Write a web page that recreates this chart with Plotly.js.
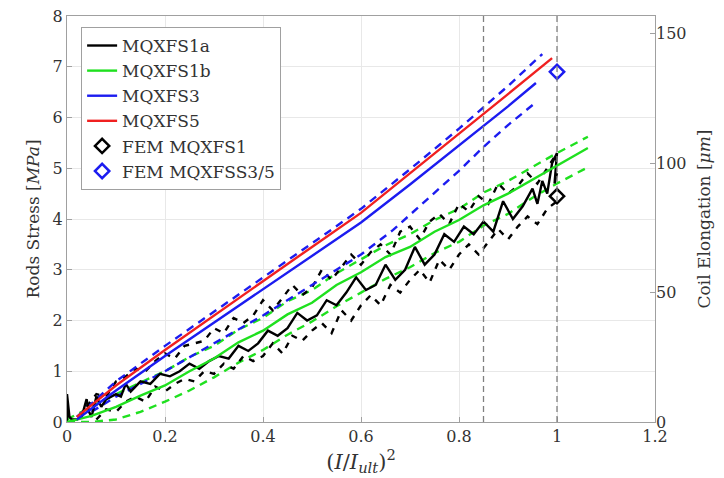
<!DOCTYPE html>
<html><head><meta charset="utf-8">
<script src="https://cdn.plot.ly/plotly-3.0.1.min.js"></script>
<style>html,body{margin:0;padding:0;background:#fff}</style>
</head><body><div id="chart" style="width:724px;height:478px"></div>
<script>
// ---------- data (x = (I/Iult)^2, y = Rods stress MPa) ----------
const s1aX = [0,0,0.005,0.01,0.02,0.03,0.04,0.045,0.05,0.06,0.07,0.08,0.1,0.11,0.12,0.13,0.15,0.17,0.19,0.21,0.23,0.25,0.27,0.29,0.31,0.33,0.35,0.37,0.39,0.41,0.43,0.45,0.47,0.49,0.51,0.53,0.55,0.57,0.59,0.61,0.63,0.65,0.67,0.69,0.71,0.73,0.75,0.77,0.79,0.81,0.83,0.85,0.87,0.89,0.91,0.93,0.95,0.96,0.97,0.98,0.99,1.0,0.995,1.0];
const s1aY = [0,0.55,0.1,0.05,0.05,0.1,0.45,0.2,0.1,0.5,0.3,0.45,0.55,0.5,0.75,0.6,0.8,0.75,0.95,0.9,1.0,1.15,1.05,1.2,1.3,1.25,1.5,1.4,1.55,1.8,1.7,1.85,2.15,2.0,2.1,2.4,2.3,2.55,2.85,2.6,2.7,3.1,2.8,3.0,3.45,3.1,3.3,3.7,3.55,3.85,3.7,3.95,3.75,4.35,4.0,4.25,4.6,4.3,4.75,4.5,5.1,5.3,4.7,4.9];
const s1aUpX = [0.04,0.06,0.08,0.1,0.12,0.14,0.16,0.18,0.2,0.22,0.24,0.26,0.28,0.3,0.32,0.34,0.36,0.38,0.4,0.42,0.44,0.46,0.48,0.5,0.52,0.54,0.56,0.58,0.6,0.62,0.64,0.66,0.68,0.7,0.72,0.74,0.76,0.78,0.8,0.82,0.84,0.86,0.88,0.9,0.92,0.94,0.96,0.98,1.0];
const s1aUpY = [0.3,0.55,0.5,0.8,0.9,1.05,1.0,1.2,1.35,1.25,1.5,1.55,1.6,1.85,1.75,2.05,1.95,2.1,2.4,2.2,2.45,2.7,2.5,2.65,3.0,2.8,3.05,3.3,3.1,3.35,3.5,3.3,3.75,3.85,3.6,3.95,4.1,3.9,4.3,4.15,4.45,4.3,4.7,4.5,4.65,4.9,4.7,5.0,5.3];
const s1aLoX = [0.06,0.08,0.1,0.12,0.14,0.16,0.18,0.2,0.22,0.24,0.26,0.28,0.3,0.32,0.34,0.36,0.38,0.4,0.42,0.44,0.46,0.48,0.5,0.52,0.54,0.56,0.58,0.6,0.62,0.64,0.66,0.68,0.7,0.72,0.74,0.76,0.78,0.8,0.82,0.84,0.86,0.88,0.9,0.92,0.94,0.96,0.98,1.0];
const s1aLoY = [0.05,0.25,0.2,0.4,0.5,0.4,0.7,0.6,0.75,0.85,0.8,1.0,0.95,1.15,1.05,1.3,1.2,1.3,1.55,1.35,1.7,1.6,1.8,1.95,1.75,2.2,2.0,2.3,2.5,2.3,2.7,2.55,2.8,3.0,2.75,3.2,3.0,3.3,3.5,3.3,3.55,3.8,3.6,3.85,4.05,3.9,4.2,4.35];
const s1bX = [0,0.05,0.1,0.15,0.2,0.25,0.3,0.35,0.4,0.45,0.5,0.55,0.6,0.65,0.7,0.75,0.8,0.85,0.9,0.95,1.0,1.063];
const s1bY = [0,0.12,0.3,0.52,0.72,1.0,1.25,1.57,1.8,2.12,2.35,2.7,2.95,3.25,3.45,3.75,3.98,4.27,4.5,4.78,5.05,5.4];
const s1bUpY = [0.05,0.3,0.55,0.78,1.0,1.28,1.5,1.82,2.05,2.38,2.6,2.93,3.2,3.48,3.7,3.98,4.2,4.52,4.75,5.02,5.3,5.62];
const s1bLoY = [0,0,0.05,0.2,0.4,0.62,0.88,1.17,1.42,1.72,1.98,2.28,2.55,2.82,3.05,3.33,3.55,3.87,4.1,4.42,4.7,5.02];
const s3X = [0.02,0.1,0.2,0.3,0.4,0.5,0.6,0.7,0.8,0.85,0.9,0.957];
const s3Y = [0.05,0.62,1.3,1.96,2.62,3.27,3.93,4.68,5.45,5.83,6.22,6.68];
const s3UpX = [0.02,0.1,0.2,0.3,0.4,0.5,0.6,0.7,0.8,0.85,0.9,0.97];
const s3UpY = [0.1,0.8,1.5,2.17,2.85,3.52,4.2,4.98,5.78,6.2,6.62,7.25];
const s3LoX = [0.05,0.1,0.2,0.3,0.4,0.5,0.6,0.665,0.7,0.8,0.85,0.9,0.957];
const s3LoY = [0.2,0.5,1.0,1.55,2.1,2.7,3.3,3.78,4.08,4.95,5.42,5.85,6.3];
const s5X = [0.02,0.1,0.2,0.3,0.4,0.5,0.6,0.64,0.7,0.8,0.85,0.9,0.99];
const s5Y = [0.1,0.72,1.42,2.1,2.78,3.45,4.12,4.43,4.9,5.68,6.07,6.46,7.17];
const femS1X = [1.0], femS1Y = [4.45];
const femS35X = [1.0], femS35Y = [6.9];
const vLines = [0.85, 1.0];
const names = ['MQXFS1a','MQXFS1b','MQXFS3','MQXFS5','FEM MQXFS1','FEM MQXFSS3/5'];

const BLACK='#000000', GREEN='#1fe01f', BLUE='#1c1cf0', RED='#f02020';
const LW=2.4;
function line(x,y,color,name,dash,show){
  return {x:x,y:y,type:'scatter',mode:'lines',name:name,showlegend:!!show,
    line:{color:color,width:LW,dash:dash||'solid'},hoverinfo:'skip'};
}
const traces = [
  line(s1bX,s1bUpY,GREEN,'','8px,6px'),
  line(s1bX,s1bLoY,GREEN,'','8px,6px'),
  line(s1aUpX,s1aUpY,BLACK,'','6px,7px'),
  line(s1aLoX,s1aLoY,BLACK,'','6px,7px'),
  line(s3UpX,s3UpY,BLUE,'','8px,6px'),
  line(s3LoX,s3LoY,BLUE,'','8px,6px'),
  line(s1aX,s1aY,BLACK,names[0],'solid',true),
  line(s1bX,s1bY,GREEN,names[1],'solid',true),
  line(s3X,s3Y,BLUE,names[2],'solid',true),
  line(s5X,s5Y,RED,names[3],'solid',true),
  {x:femS1X,y:femS1Y,type:'scatter',mode:'markers',name:names[4],
   marker:{symbol:'diamond-open',size:11,color:BLACK,line:{width:2.5,color:BLACK}}},
  {x:femS35X,y:femS35Y,type:'scatter',mode:'markers',name:names[5],
   marker:{symbol:'diamond-open',size:11,color:BLUE,line:{width:2.5,color:BLUE}}},
  {x:[null],y:[null],yaxis:'y2',type:'scatter',mode:'lines',showlegend:false,hoverinfo:'skip'}
];
const FONT='DejaVu Serif';
const shapes = vLines.map(v=>({type:'line',xref:'x',yref:'paper',x0:v,x1:v,y0:0,y1:1,
  line:{color:'#808080',width:1.3,dash:'6px,4px'},layer:'above'}));
const TF={family:FONT,size:16,color:'#333333'};
const layout = {
  width:724,height:478,
  margin:{l:67,r:69,t:16,b:56},
  paper_bgcolor:'#ffffff',plot_bgcolor:'#ffffff',
  font:{family:FONT,size:16,color:'#333333'},
  showlegend:true,
  xaxis:{range:[0,1.2],tickvals:[0,0.2,0.4,0.6,0.8,1,1.2],ticktext:['0','0.2','0.4','0.6','0.8','1','1.2'],
    showgrid:true,gridcolor:'#e8e8e8',gridwidth:1,zeroline:false,
    showline:true,linecolor:'#a0a0a0',linewidth:1,mirror:true,ticks:'inside',ticklen:5,tickcolor:'#a0a0a0',
    tickfont:TF,
    title:{text:'(<i>I</i>/<i>I</i><sub><i>ult</i></sub>)<sup>2</sup>',font:{family:FONT,size:21,color:'#333'},standoff:6}},
  yaxis:{range:[0,8],dtick:1,showgrid:true,gridcolor:'#e8e8e8',zeroline:false,
    showline:true,linecolor:'#a0a0a0',linewidth:1,mirror:true,ticks:'inside',ticklen:5,tickcolor:'#a0a0a0',
    tickfont:TF,
    title:{text:'Rods Stress [<i>MPa</i>]',font:{family:FONT,size:17,color:'#333'},standoff:8}},
  yaxis2:{overlaying:'y',side:'right',range:[0,156.8],tickvals:[0,50,100,150],showgrid:false,zeroline:false,
    showline:false,ticks:'inside',ticklen:5,tickcolor:'#a0a0a0',
    tickfont:TF,
    title:{text:'Coil Elongation [<i>μm</i>]',font:{family:FONT,size:17,color:'#333'},standoff:12}},
  legend:{x:0.024,y:0.973,xanchor:'left',yanchor:'top',bgcolor:'#ffffff',bordercolor:'#a0a0a0',borderwidth:1,
    font:{family:FONT,size:17,color:'#333'},itemwidth:30,tracegroupgap:0},
  shapes:shapes
};
Plotly.newPlot('chart',traces,layout,{displayModeBar:false,staticPlot:true});
</script></body></html>
